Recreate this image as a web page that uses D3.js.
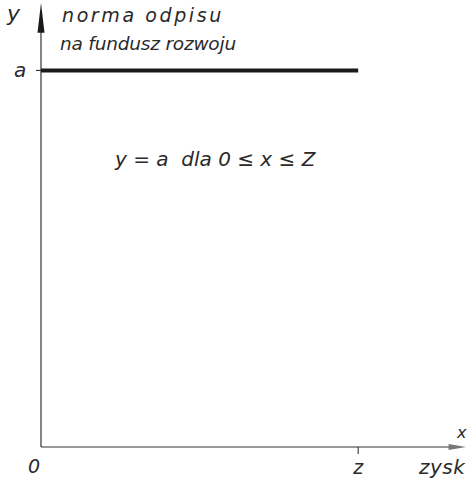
<!DOCTYPE html>
<html><head><meta charset="utf-8">
<script src="https://cdn.jsdelivr.net/npm/d3@7"></script>
<style>body{margin:0;background:#fff}svg{display:block}text{font-family:"DejaVu Sans",sans-serif;font-style:italic;fill:#2a2a2a}</style>
</head><body>
<script>
const aValue = [1];
const zValue = [1];
const lineSegment = [[0, 1], [1, 1]];
const xTickLabels = ["0", "z"];
const yTickLabels = ["a"];
const yAxisTitle = ["norma odpisu", "na fundusz rozwoju"];
const xAxisTitle = "zysk";
const formula = "y = a  dla 0 ≤ x ≤ Z";

const W = 470, H = 478;
const svg = d3.select("body").append("svg").attr("width", W).attr("height", H);
const x = d3.scaleLinear().domain([0, 1.34]).range([41, 466]);
const y = d3.scaleLinear().domain([0, 1.179]).range([447, 3]);
const ink = "#222";

// axes
svg.append("line").attr("x1", x(0)).attr("x2", x(1.29)).attr("y1", y(0)).attr("y2", y(0)).attr("stroke", "#333").attr("stroke-width", 1.2);
svg.append("line").attr("x1", x(0)).attr("x2", x(0)).attr("y1", y(0)).attr("y2", y(1.12)).attr("stroke", "#333").attr("stroke-width", 1.2);
// arrows
svg.append("path").attr("d", `M${x(0)-3.5},${y(1.1)} L${x(0)},${y(1.179)} L${x(0)+3.5},${y(1.1)} Z`).attr("fill", "#1a1a1a");
svg.append("path").attr("d", `M${x(1.285)},${y(0)-3} L${x(1.34)},${y(0)} L${x(1.285)},${y(0)+3} Z`).attr("fill", "#777");

// ticks
svg.append("line").attr("x1", x(zValue[0])).attr("x2", x(zValue[0])).attr("y1", y(0)).attr("y2", y(0)+7).attr("stroke", ink).attr("stroke-width", 1);
svg.append("line").attr("x1", x(0)-5).attr("x2", x(0)).attr("y1", y(aValue[0])).attr("y2", y(aValue[0])).attr("stroke", ink).attr("stroke-width", 1);

// the main line
svg.append("path").datum(lineSegment)
  .attr("d", d3.line().x(d => x(d[0])).y(d => y(d[1])))
  .attr("stroke", "#1a1a1a").attr("stroke-width", 4).attr("fill", "none");

// labels
svg.append("text").attr("x", 7).attr("y", 21).attr("font-size", 22).text("y");
svg.append("text").attr("x", 14).attr("y", y(aValue[0]) + 7).attr("font-size", 20).text(yTickLabels[0]);
svg.append("text").attr("x", 28).attr("y", 473).attr("font-size", 19).text(xTickLabels[0]);
svg.append("text").attr("x", x(zValue[0])).attr("y", 474).attr("text-anchor", "middle").attr("font-size", 19).text(xTickLabels[1]);
svg.append("text").attr("x", 419).attr("y", 474).attr("font-size", 20).attr("letter-spacing", 0.5).text(xAxisTitle);
svg.append("text").attr("x", 457).attr("y", 438).attr("font-size", 16).text("x");
svg.append("text").attr("x", 62).attr("y", 22).attr("font-size", 19).attr("letter-spacing", 2.6).text(yAxisTitle[0]);
svg.append("text").attr("x", 60).attr("y", 50).attr("font-size", 18.5).attr("letter-spacing", -0.2).text(yAxisTitle[1]);
svg.append("text").attr("x", 115).attr("y", 166).attr("font-size", 20).style("white-space","pre").text(formula);
</script>
</body></html>
